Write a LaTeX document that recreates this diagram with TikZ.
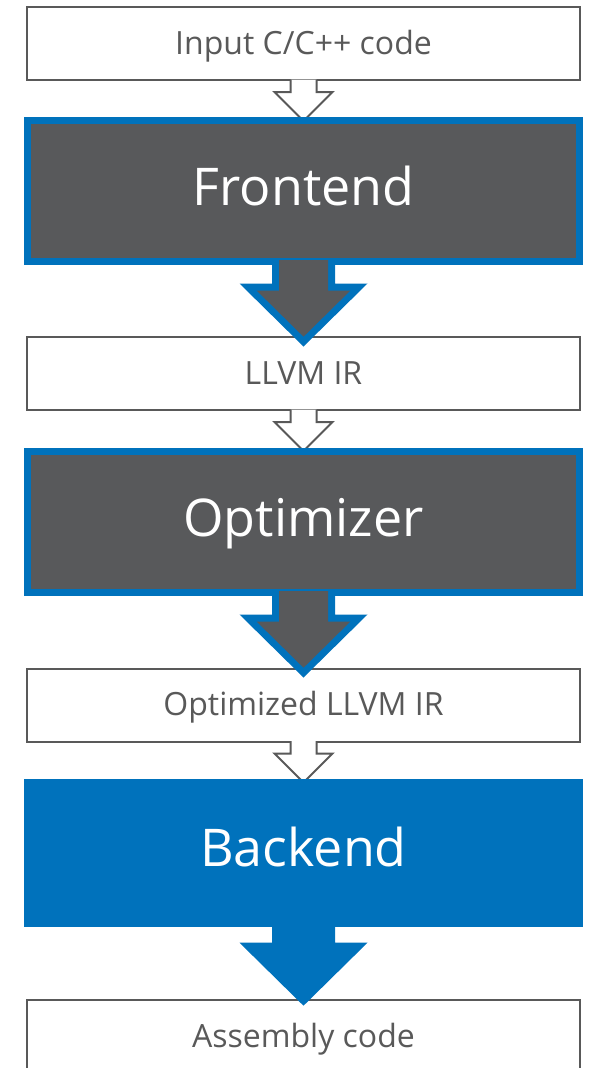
\documentclass[tikz,border=0pt]{standalone}
\usepackage{fontspec}
\setmainfont{Open Sans}
\definecolor{dkgray}{RGB}{88,89,91}
\definecolor{lblue}{RGB}{0,114,188}
\definecolor{txtgray}{RGB}{89,89,89}
\tikzset{
  smallbox/.style={draw=txtgray, line width=2pt, fill=white, minimum width=553pt, minimum height=73pt, inner sep=0pt, text=txtgray, text height=28pt, text depth=7pt, font=\fontsize{32}{38}\selectfont},
  bigbox/.style={draw=lblue, line width=7pt, fill=dkgray, minimum width=552pt, minimum height=141pt, inner sep=0pt, text=white, text height=40pt, text depth=12pt, font=\fontsize{52}{62}\selectfont},
  bluebox/.style={fill=lblue, minimum width=559pt, minimum height=148pt, inner sep=0pt, text=white, text height=40pt, text depth=12pt, font=\fontsize{52}{62}\selectfont},
  hollow/.style={draw=txtgray, line width=2pt, fill=white, line join=miter}
}
\newcommand{\hollowarrow}[1]{%
  \filldraw[hollow] ([xshift=-13pt,yshift=1.5pt]#1) -- ++(0,12.5) -- ++(-16,0) -- ++(29,29) -- ++(29,-29) -- ++(-16,0) -- ++(0,-12.5);}
\newcommand{\bigarrow}[2]{%
  \fill[lblue] ([xshift=-31.5pt,yshift=3.5pt]#1) -- ++(0,22) -- ++(-32.5,0) -- ++(64,63) -- ++(64,-63) -- ++(-32.5,0) -- ++(0,-22) -- cycle;
  \fill[#2] ([xshift=-24.5pt,yshift=5pt]#1) -- ++(0,30.5) -- ++(-22.4,0) -- ++(46.9,46.2) -- ++(46.9,-46.2) -- ++(-22.4,0) -- ++(0,-30.5) -- cycle;}
\begin{document}
\begin{tikzpicture}[x=1pt,y=-1pt]
\useasboundingbox (0,0) rectangle (592,1068);
\clip (0,0) rectangle (592,1068);
% small boxes
\node[smallbox] (input) at (303.5,43.5) {Input C/C++ code};
\node[smallbox] (ir) at (303.5,373.5) {LLVM IR};
\node[smallbox] (oir) at (303.5,705) {Optimized LLVM IR};
\node[smallbox] (asm) at (303.5,1036.5) {Assembly code};
% hollow arrows
\hollowarrow{input.south}
\hollowarrow{ir.south}
\hollowarrow{oir.south}
% big boxes
\node[bigbox] (fe) at (303.5,191) {Frontend};
\node[bigbox] (opt) at (303.5,522) {Optimizer};
\node[bluebox] (be) at (303.5,852.5) {Backend};
% big arrows
\bigarrow{fe.south}{dkgray}
\bigarrow{opt.south}{dkgray}
\fill[lblue] ([xshift=-31.5pt,yshift=1pt]be.south) -- ++(0,17) -- ++(-32.5,0) -- ++(64,63) -- ++(64,-63) -- ++(-32.5,0) -- ++(0,-17) -- cycle;
\end{tikzpicture}
\end{document}
